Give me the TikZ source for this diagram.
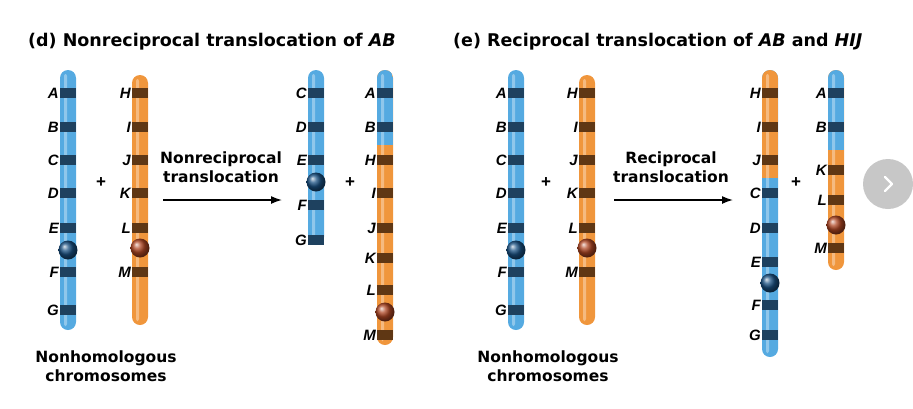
\documentclass[tikz,border=0pt]{standalone}
\usepackage{fontspec}
\setmainfont{Liberation Sans}
\newfontfamily\widefont{DejaVu Sans}
\usetikzlibrary{arrows.meta}
\begin{document}
\definecolor{cb}{RGB}{85,170,225}
\definecolor{cbd}{RGB}{30,65,95}
\definecolor{co}{RGB}{240,150,60}
\definecolor{cod}{RGB}{95,55,20}
\definecolor{cenb}{RGB}{25,80,130}
\definecolor{cenr}{RGB}{175,70,35}
\begin{tikzpicture}[x=1pt,y=-1pt,
  lab/.style={font=\bfseries\itshape\fontsize{15}{15}\selectfont,anchor=east,inner sep=1pt},
  ttl/.style={font=\widefont\bfseries\fontsize{17.5}{18}\selectfont,anchor=west,inner sep=0},
  txt/.style={font=\widefont\bfseries\fontsize{15.5}{19}\selectfont,align=center},
  plus/.style={font=\bfseries\fontsize{17}{17}\selectfont},
  arr/.style={line width=1.5pt,-{Latex[length=11pt,width=8pt]}}]
\useasboundingbox (0,0) rectangle (913,408);
\newcommand\chrom[4]{\fill[#4,rounded corners=8pt] (#1-8,#2) rectangle (#1+8,#3);}
\newcommand\seg[6]{\begin{scope}\clip[rounded corners=8pt] (#1-8,#2) rectangle (#1+8,#3);
  \fill[#6] (#1-8,#4) rectangle (#1+8,#5);\end{scope}}
\newcommand\shine[3]{\fill[white,opacity=0.35,rounded corners=2pt] (#1-4,#2+4) rectangle (#1-1,#3-4);}
\newcommand\band[4]{\fill[#4] (#1-8,#2-5) rectangle (#1+8,#2+5);
  \node[lab] at (#1-8,#2) {#3};}
\newcommand\cen[3]{\shade[ball color=#3] (#1,#2) circle (9.5);}
% ---- titles
\node[ttl] (td) at (28,42) {(d) Nonreciprocal translocation of \textit{AB}};
\node[ttl] (te) at (453,42) {(e) Reciprocal translocation of \textit{AB} and \textit{HIJ}};
% ---- panel d chr1
\chrom{68}{70}{330}{cb}\shine{68}{70}{330}
\band{68}{93}{A}{cbd}\band{68}{127}{B}{cbd}\band{68}{160}{C}{cbd}\band{68}{193}{D}{cbd}
\band{68}{228}{E}{cbd}\band{68}{272}{F}{cbd}\band{68}{310}{G}{cbd}\cen{68}{250}{cenb}
% chr2
\chrom{140}{75}{325}{co}\shine{140}{75}{325}
\band{140}{93}{H}{cod}\band{140}{127}{I}{cod}\band{140}{160}{J}{cod}\band{140}{193}{K}{cod}
\band{140}{228}{L}{cod}\band{140}{272}{M}{cod}\cen{140}{248}{cenr}
\node[plus] (p1) at (101,183) {+};
\node[txt] (t1) at (221,167) {Nonreciprocal\\translocation};
\coordinate (a1s) at (163,200); \coordinate (a1e) at (282,200);
\draw[arr] (a1s) -- (a1e);
% chr3
\chrom{316}{70}{245}{cb}\shine{316}{70}{245}
\band{316}{93}{C}{cbd}\band{316}{127}{D}{cbd}\band{316}{160}{E}{cbd}
\band{316}{205}{F}{cbd}\band{316}{240}{G}{cbd}\cen{316}{182}{cenb}
% chr4
\chrom{385}{70}{345}{co}\seg{385}{70}{345}{60}{145}{cb}\shine{385}{70}{345}
\band{385}{93}{A}{cbd}\band{385}{127}{B}{cbd}\band{385}{160}{H}{cod}\band{385}{193}{I}{cod}
\band{385}{228}{J}{cod}\band{385}{258}{K}{cod}\band{385}{290}{L}{cod}\band{385}{335}{M}{cod}
\cen{385}{312}{cenr}
\node[plus] (p2) at (350,183) {+};
\node[txt] (n1) at (106,366) {Nonhomologous\\chromosomes};
% ---- panel e
\chrom{516}{70}{330}{cb}\shine{516}{70}{330}
\band{516}{93}{A}{cbd}\band{516}{127}{B}{cbd}\band{516}{160}{C}{cbd}\band{516}{193}{D}{cbd}
\band{516}{228}{E}{cbd}\band{516}{272}{F}{cbd}\band{516}{310}{G}{cbd}\cen{516}{250}{cenb}
\chrom{587}{75}{325}{co}\shine{587}{75}{325}
\band{587}{93}{H}{cod}\band{587}{127}{I}{cod}\band{587}{160}{J}{cod}\band{587}{193}{K}{cod}
\band{587}{228}{L}{cod}\band{587}{272}{M}{cod}\cen{587}{248}{cenr}
\node[plus] (p3) at (546,183) {+};
\node[txt] (t2) at (671,167) {Reciprocal\\translocation};
\coordinate (a2s) at (614,200); \coordinate (a2e) at (733,200);
\draw[arr] (a2s) -- (a2e);
\chrom{770}{70}{357}{cb}\seg{770}{70}{357}{60}{178}{co}\shine{770}{70}{357}
\band{770}{93}{H}{cod}\band{770}{127}{I}{cod}\band{770}{160}{J}{cod}\band{770}{193}{C}{cbd}
\band{770}{228}{D}{cbd}\band{770}{262}{E}{cbd}\band{770}{305}{F}{cbd}\band{770}{335}{G}{cbd}
\cen{770}{283}{cenb}
\chrom{836}{70}{270}{co}\seg{836}{70}{270}{60}{150}{cb}\shine{836}{70}{270}
\band{836}{93}{A}{cbd}\band{836}{127}{B}{cbd}\band{836}{170}{K}{cod}\band{836}{200}{L}{cod}
\band{836}{248}{M}{cod}\cen{836}{225}{cenr}
\node[plus] (p4) at (796,183) {+};
\node[txt] (n2) at (548,366) {Nonhomologous\\chromosomes};
% nav button
\node[circle,fill=black!22,minimum size=50pt,inner sep=0] (nav) at (888,184) {};
\draw[white,line width=2.2pt,line cap=round,line join=round]
  ([shift={(-3,-7)}]nav.center) -- ([shift={(4,0)}]nav.center) -- ([shift={(-3,7)}]nav.center);
\end{tikzpicture}
\end{document}
